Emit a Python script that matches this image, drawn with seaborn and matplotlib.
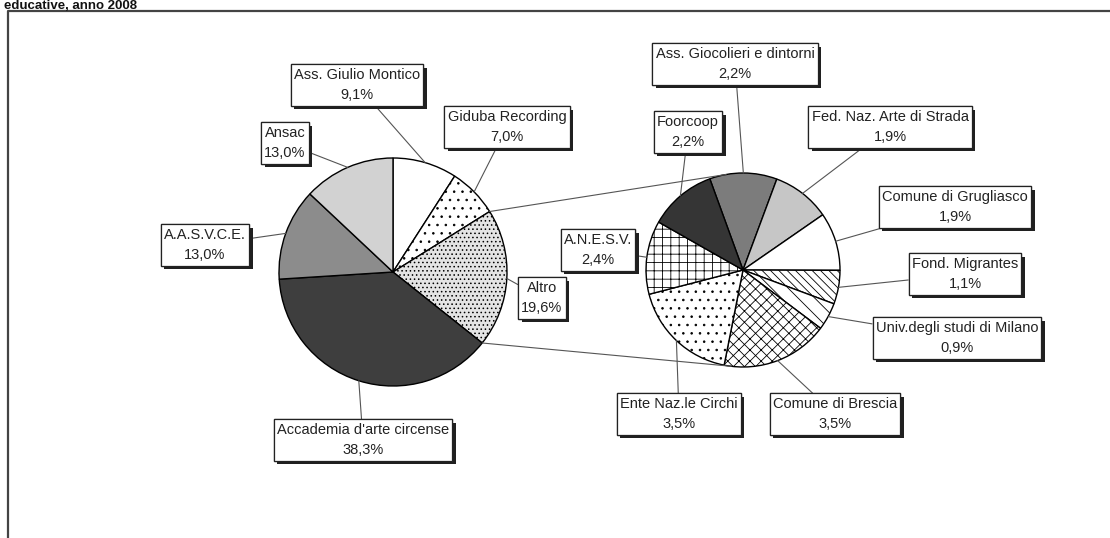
import numpy as np
import matplotlib.pyplot as plt
import matplotlib.patheffects as pe
import seaborn as sns

# main pie: sources of funding
left_labels = ["Ass. Giulio Montico", "Giduba Recording", "Altro",
               "Accademia d'arte circense", "A.A.S.V.C.E.", "Ansac"]
left_values = [9.1, 7.0, 19.6, 38.3, 13.0, 13.0]

# breakdown of "Altro"
right_labels = ["Ass. Giocolieri e dintorni", "Fed. Naz. Arte di Strada",
                "Comune di Grugliasco", "Fond. Migrantes",
                "Univ.degli studi di Milano", "Comune di Brescia",
                "Ente Naz.le Circhi", "A.N.E.S.V.", "Foorcoop"]
right_values = [2.2, 1.9, 1.9, 1.1, 0.9, 3.5, 3.5, 2.4, 2.2]

title_text = "educative, anno 2008"

sns.set_theme(style="white")
plt.rcParams['font.family'] = ['Liberation Sans', 'DejaVu Sans']
plt.rcParams['hatch.linewidth'] = 0.6

W, H = 1110, 538
fig = plt.figure(figsize=(W / 100, H / 100), dpi=100)
ax = fig.add_axes([0, 0, 1, 1])

def Y(y):
    # pixel row (from top) -> data y
    return H - y

left_colors = ["white", "white", "#e4e4e4", "#3e3e3e", "#8c8c8c", "#d2d2d2"]
left_hatch = [None, "..", "....", None, None, None]
right_colors = ["#7c7c7c", "#c6c6c6", "white", "white", "white",
                "white", "white", "white", "#353535"]
right_hatch = [None, None, None, "\\\\\\\\", "\\\\", "xxx", "..", "++", None]

lc, lr = (393, Y(272)), 114
rc, rr = (743, Y(270)), 97

wp = dict(edgecolor="black", linewidth=1.0)
lw_, _ = ax.pie(left_values, colors=left_colors, startangle=90, counterclock=False,
                center=lc, radius=lr, wedgeprops=wp, frame=True)
rw_, _ = ax.pie(right_values, colors=right_colors, startangle=110, counterclock=False,
                center=rc, radius=rr, wedgeprops=wp, frame=True)
ax.set_xlim(0, W)
ax.set_ylim(0, H)
ax.set_aspect('equal')
ax.axis('off')
for w, h in zip(lw_, left_hatch):
    if h:
        w.set_hatch(h)
for w, h in zip(rw_, right_hatch):
    if h:
        w.set_hatch(h)

# label box centres in pixels
left_pos = [(357, 85), (507, 127), (542, 298), (363, 440), (205, 245), (285, 143)]
right_pos = [(735, 64), (890, 127), (955, 207), (965, 274), (957, 338),
             (835, 414), (679, 414), (598, 250), (688, 132)]

def fmt(v):
    return f"{v:.1f}".replace(".", ",") + "%"

def label(wedges, labels, values, center, r, pos):
    for w, lab, v, (px, py) in zip(wedges, labels, values, pos):
        mid = np.deg2rad((w.theta1 + w.theta2) / 2)
        xy = (center[0] + r * np.cos(mid), center[1] + r * np.sin(mid))
        t = ax.annotate(f"{lab}\n{fmt(v)}", xy=xy, xytext=(px, Y(py)),
                        ha="center", va="center", fontsize=10.5, linespacing=1.6,
                        color="#222222",
                        bbox=dict(boxstyle="square,pad=0.22", fc="white",
                                  ec="#222222", lw=0.9),
                        arrowprops=dict(arrowstyle="-", color="#555555", lw=0.8,
                                        shrinkA=0, shrinkB=0))
        t.get_bbox_patch().set_path_effects(
            [pe.withSimplePatchShadow(offset=(2.5, -2.5), shadow_rgbFace="#202020", alpha=1),
             pe.Normal()])

label(lw_, left_labels, left_values, lc, lr, left_pos)
label(rw_, right_labels, right_values, rc, rr, right_pos)

# connector lines between "Altro" and the breakdown pie
altro = lw_[2]
for a_left, a_right in [(altro.theta2, 100), (altro.theta1, -97)]:
    p = np.deg2rad(a_left)
    q = np.deg2rad(a_right)
    ax.plot([lc[0] + lr * np.cos(p), rc[0] + rr * np.cos(q)],
            [lc[1] + lr * np.sin(p), rc[1] + rr * np.sin(q)],
            color="#555555", lw=0.8)

# outer frame (runs off the page at right and bottom)
ax.plot([8, 8, W + 5], [-5, Y(11), Y(11)], color="#444444", lw=1.6, clip_on=False)

fig.text(0.004, 1 - 9 / H, title_text, fontsize=9.5, fontweight="bold",
         ha="left", va="baseline", color="#111111")

fig.savefig("out.png", dpi=100)
